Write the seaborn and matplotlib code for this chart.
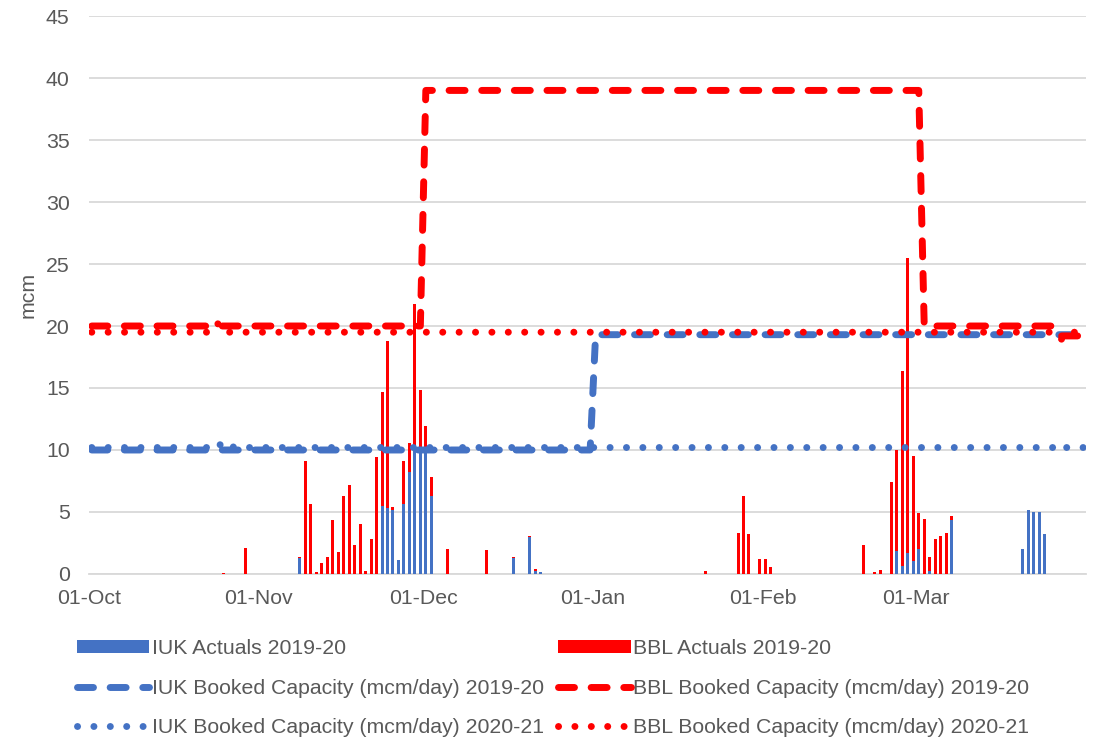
import numpy as np
import pandas as pd
import matplotlib
matplotlib.use("Agg")
import matplotlib.pyplot as plt
from matplotlib.patches import Patch
from matplotlib.lines import Line2D
import seaborn as sns

# ---------------------------------------------------------------- data
season_start = "2020-10-01"
season_end = "2021-03-31"

# Daily flows (mcm), only the days with flow are listed
iuk_actual_dates = [
    "2020-11-08", "2020-11-23", "2020-11-24", "2020-11-25", "2020-11-26",
    "2020-11-27", "2020-11-28", "2020-11-29", "2020-11-30", "2020-12-01",
    "2020-12-02", "2020-12-17", "2020-12-20", "2020-12-21", "2020-12-22",
    "2021-02-25", "2021-02-26", "2021-02-27", "2021-02-28", "2021-03-01",
    "2021-03-03", "2021-03-07", "2021-03-20", "2021-03-21", "2021-03-22",
    "2021-03-23", "2021-03-24",
]
iuk_actual_values = [
    1.27, 5.47, 5.33, 5.15, 1.09,
    5.66, 8.2, 10.1, 10.1, 10.1,
    6.28, 1.27, 2.97, 0.23, 0.2,
    1.86, 0.62, 1.7, 1.08, 2.03,
    0.27, 4.35, 2.03, 5.16, 5.0,
    5.0, 3.24,
]

bbl_actual_dates = [
    "2020-10-25", "2020-10-29", "2020-11-08", "2020-11-09", "2020-11-10",
    "2020-11-11", "2020-11-12", "2020-11-13", "2020-11-14", "2020-11-15",
    "2020-11-16", "2020-11-17", "2020-11-18", "2020-11-19", "2020-11-20",
    "2020-11-21", "2020-11-22", "2020-11-23", "2020-11-24", "2020-11-25",
    "2020-11-27", "2020-11-28", "2020-11-29", "2020-11-30", "2020-12-01",
    "2020-12-02", "2020-12-05", "2020-12-12", "2020-12-17", "2020-12-20",
    "2020-12-21", "2021-01-21", "2021-01-27", "2021-01-28", "2021-01-29",
    "2021-01-31", "2021-02-01", "2021-02-02", "2021-02-19", "2021-02-21",
    "2021-02-22", "2021-02-24", "2021-02-25", "2021-02-26", "2021-02-27",
    "2021-02-28", "2021-03-01", "2021-03-02", "2021-03-03", "2021-03-04",
    "2021-03-05", "2021-03-06", "2021-03-07",
]
bbl_actual_values = [
    0.1, 2.1, 0.13, 9.15, 5.66,
    0.2, 0.85, 1.33, 4.37, 1.8,
    6.28, 7.19, 2.33, 4.05, 0.23,
    2.86, 9.4, 9.23, 13.47, 0.25,
    3.49, 2.4, 11.7, 4.7, 1.8,
    1.58, 1.98, 1.92, 0.08, 0.11,
    0.21, 0.26, 3.27, 6.28, 3.21,
    1.17, 1.22, 0.58, 2.35, 0.14,
    0.35, 7.43, 8.14, 15.78, 23.8,
    8.43, 2.92, 4.46, 1.11, 2.84,
    3.05, 3.27, 0.33,
]

# Booked capacity (mcm/day): value that applies from each date onward
iuk_booked_1920_from = ["2020-10-01", "2021-01-01"]
iuk_booked_1920_values = [10.0, 19.3]
iuk_booked_1920_last = "2021-03-31"

bbl_booked_1920_from = ["2020-10-01", "2020-12-01", "2021-03-02", "2021-03-27"]
bbl_booked_1920_values = [20.0, 39.0, 20.0, 19.2]
bbl_booked_1920_last = "2021-03-30"

iuk_booked_2021_from = ["2020-10-01", "2020-10-24", "2020-10-25", "2020-10-26",
                        "2020-10-27", "2021-03-27", "2021-03-28"]
iuk_booked_2021_values = [10.2, 10.6, 10.2, 10.5, 10.2, 9.9, 10.2]
iuk_booked_2021_last = "2021-03-31"

bbl_booked_2021_from = ["2020-10-01", "2020-10-24", "2020-10-25",
                        "2021-03-27", "2021-03-28"]
bbl_booked_2021_values = [19.5, 20.2, 19.5, 18.9, 19.5]
bbl_booked_2021_last = "2021-03-30"

month_starts = ["2020-10-01", "2020-11-01", "2020-12-01",
                "2021-01-01", "2021-02-01", "2021-03-01"]
month_labels = ["01-Oct", "01-Nov", "01-Dec", "01-Jan", "01-Feb", "01-Mar"]

series_labels = [
    "IUK Actuals 2019-20",
    "BBL Actuals 2019-20",
    "IUK Booked Capacity (mcm/day) 2019-20",
    "BBL Booked Capacity (mcm/day) 2019-20",
    "IUK Booked Capacity (mcm/day) 2020-21",
    "BBL Booked Capacity (mcm/day) 2020-21",
]

# ---------------------------------------------------------------- helpers
days = pd.date_range(season_start, season_end, freq="D")
day_of = {d: i for i, d in enumerate(days)}


def daily(dates, values):
    s = pd.Series(values, index=pd.to_datetime(dates))
    return s.reindex(days, fill_value=0.0).to_numpy()


def stepped(starts, values, last):
    s = pd.Series(values, index=pd.to_datetime(starts))
    rng = pd.date_range(season_start, last, freq="D")
    s = s.reindex(rng).ffill()
    return np.array([day_of[d] for d in rng]), s.to_numpy()


iuk = daily(iuk_actual_dates, iuk_actual_values)
bbl = daily(bbl_actual_dates, bbl_actual_values)
flows = pd.DataFrame({"day": np.arange(len(days)), "iuk": iuk, "total": iuk + bbl})

# ---------------------------------------------------------------- style
BLUE = "#4472C4"
RED = "#FF0000"
GRID = "#D9D9D9"
TEXT = "#595959"
FS = 15.3

sns.set_style("white")
plt.rcParams["font.family"] = ["Liberation Sans", "DejaVu Sans"]

fig = plt.figure(figsize=(11, 7.39), dpi=100)
ax = fig.add_axes([0.0809, 0.2233, 0.9062, 0.7550])

# stacked bars: BBL sits on top of IUK
sns.barplot(data=flows, x="day", y="total", native_scale=True, orient="x",
            width=0.55, color=RED, saturation=1, linewidth=0, errorbar=None,
            ax=ax, zorder=2)
sns.barplot(data=flows, x="day", y="iuk", native_scale=True, orient="x",
            width=0.55, color=BLUE, saturation=1, linewidth=0, errorbar=None,
            ax=ax, zorder=2)

LW = 5.0
DASH = (0, (2.3, 2.4))
DOT = (0, (0.01, 2.35))
line_specs = [
    (iuk_booked_1920_from, iuk_booked_1920_values, iuk_booked_1920_last, BLUE, DASH),
    (bbl_booked_1920_from, bbl_booked_1920_values, bbl_booked_1920_last, RED, DASH),
    (iuk_booked_2021_from, iuk_booked_2021_values, iuk_booked_2021_last, BLUE, DOT),
    (bbl_booked_2021_from, bbl_booked_2021_values, bbl_booked_2021_last, RED, DOT),
]
for starts, vals, last, col, ls in line_specs:
    xs, ys = stepped(starts, vals, last)
    sns.lineplot(x=xs, y=ys, ax=ax, color=col, linewidth=LW, linestyle=ls,
                 dash_capstyle="round", solid_capstyle="round",
                 estimator=None, errorbar=None, sort=False, zorder=3)

# ---------------------------------------------------------------- axes
ax.set_xlim(-0.5, len(days) - 0.5)
ax.set_ylim(0, 45)
ax.set_yticks(np.arange(0, 46, 5))
ax.yaxis.grid(True, color=GRID, linewidth=1.3, zorder=0)
ax.xaxis.grid(False)
ax.set_axisbelow(True)

tick_pos = [day_of[pd.Timestamp(d)] - 0.5 for d in month_starts]
ax.set_xticks(tick_pos)
ax.set_xticklabels(month_labels)
ax.set_xticks([len(days) - 0.5], minor=True)
ax.tick_params(axis="x", which="both", length=5, width=1.3, color=GRID,
               labelsize=FS, labelcolor=TEXT, pad=6)
ax.tick_params(axis="y", length=0, labelsize=FS, labelcolor=TEXT, pad=14)

for side in ("top", "right", "left"):
    ax.spines[side].set_visible(False)
ax.spines["bottom"].set_color(GRID)
ax.spines["bottom"].set_linewidth(1.3)
ax.spines["bottom"].set_zorder(1)

ax.set_xlabel("")
ax.set_ylabel("mcm", fontsize=FS, color=TEXT, labelpad=6)

# ---------------------------------------------------------------- legend
handles = [
    Patch(facecolor=BLUE, edgecolor="none"),
    Line2D([], [], color=BLUE, lw=LW, ls=DASH, dash_capstyle="round"),
    Line2D([], [], color=BLUE, lw=LW, ls=DOT, dash_capstyle="round"),
    Patch(facecolor=RED, edgecolor="none"),
    Line2D([], [], color=RED, lw=LW, ls=DASH, dash_capstyle="round"),
    Line2D([], [], color=RED, lw=LW, ls=DOT, dash_capstyle="round"),
]
labels = [series_labels[i] for i in (0, 2, 4, 1, 3, 5)]
leg = fig.legend(handles, labels, ncol=2, loc="center",
                 bbox_to_anchor=(0.5027, 0.069), frameon=False,
                 fontsize=FS, handlelength=3.4, handleheight=0.56,
                 handletextpad=0.1, columnspacing=0.7, labelspacing=0.98,
                 borderpad=0, borderaxespad=0)
for t in leg.get_texts():
    t.set_color(TEXT)

fig.savefig("out.png", dpi=100)
